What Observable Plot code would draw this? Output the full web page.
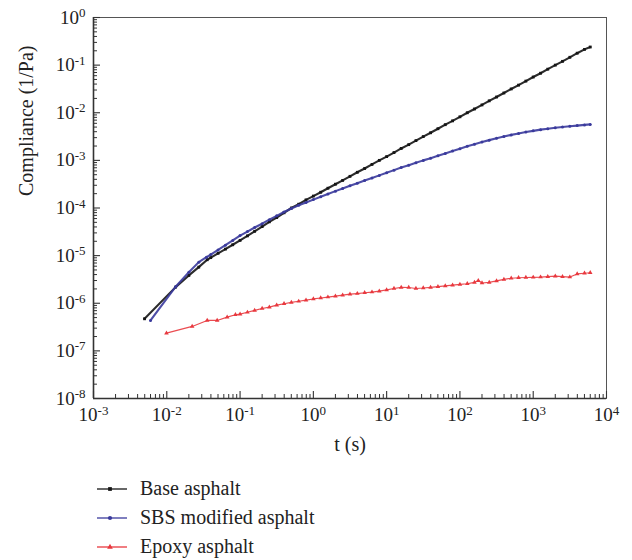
<!DOCTYPE html>
<html>
<head>
<meta charset="utf-8">
<script src="https://cdn.jsdelivr.net/npm/d3@7"></script>
<script src="https://cdn.jsdelivr.net/npm/@observablehq/plot@0.6"></script>
<style>
  body { margin: 0; background: #fff; font-family: "Liberation Serif", "DejaVu Serif", serif; }
  #wrap { position: relative; width: 632px; height: 560px; overflow: hidden; }
  #legend { position: absolute; left: 97px; top: 474px; font-size: 20px; color: #222; }
  .row { display: flex; align-items: center; height: 29px; }
  .row svg { margin-right: 13px; flex: none; }
</style>
</head>
<body>
<div id="wrap"><div id="chart"></div><div id="legend"></div></div>
<script>
// ---------- data ----------
const seriesNames = ["Base asphalt", "SBS modified asphalt", "Epoxy asphalt"];

const baseTime = [0.00497, 0.0132, 0.0200, 0.0273, 0.0356, 0.0398, 0.0501, 0.0631, 0.0794,
  0.1, 0.126, 0.158, 0.2, 0.251, 0.316, 0.398, 0.501, 0.631, 0.794,
  1, 1.26, 1.58, 2, 2.51, 3.16, 3.98, 5.01, 6.31, 7.94,
  10, 12.6, 15.8, 20, 25.1, 31.6, 39.8, 50.1, 63.1, 79.4,
  100, 126, 158, 200, 251, 316, 398, 501, 631, 794,
  1000, 1260, 1580, 2000, 2510, 3160, 3980, 5010, 6000];
const baseCompliance = [4.72e-7, 2.18e-6, 3.84e-6, 5.73e-6, 8.2e-6, 9.08e-6, 1.12e-5, 1.37e-5, 1.69e-5,
  2.09e-5, 2.60e-5, 3.24e-5, 4.07e-5, 5.13e-5, 6.31e-5, 7.94e-5, 1.0e-4, 1.20e-4, 1.48e-4,
  1.78e-4, 2.14e-4, 2.60e-4, 3.16e-4, 3.80e-4, 4.62e-4, 5.62e-4, 6.76e-4, 8.22e-4, 1.0e-3,
  1.20e-3, 1.46e-3, 1.78e-3, 2.14e-3, 2.60e-3, 3.16e-3, 3.80e-3, 4.62e-3, 5.62e-3, 6.76e-3,
  8.22e-3, 1.0e-2, 1.20e-2, 1.46e-2, 1.78e-2, 2.14e-2, 2.60e-2, 3.16e-2, 3.80e-2, 4.62e-2,
  5.62e-2, 6.76e-2, 8.22e-2, 0.100, 0.120, 0.146, 0.178, 0.214, 0.240];

const sbsTime = [0.0060, 0.0133, 0.0200, 0.0273, 0.0348, 0.0398, 0.0501, 0.0631, 0.0794,
  0.1, 0.126, 0.158, 0.2, 0.251, 0.316, 0.398, 0.501, 0.631, 0.794,
  1, 1.26, 1.58, 2, 2.51, 3.16, 3.98, 5.01, 6.31, 7.94,
  10, 12.6, 15.8, 20, 25.1, 31.6, 39.8, 50.1, 63.1, 79.4,
  100, 126, 158, 200, 251, 316, 398, 501, 631, 794,
  1000, 1260, 1580, 2000, 2510, 3160, 3980, 5010, 6000];
const sbsCompliance = [4.35e-7, 2.25e-6, 4.50e-6, 7.30e-6, 9.3e-6, 1.05e-5, 1.32e-5, 1.66e-5, 2.09e-5,
  2.63e-5, 3.20e-5, 3.89e-5, 4.68e-5, 5.69e-5, 6.84e-5, 8.22e-5, 9.77e-5, 1.14e-4, 1.30e-4,
  1.50e-4, 1.72e-4, 1.97e-4, 2.26e-4, 2.57e-4, 2.92e-4, 3.31e-4, 3.76e-4, 4.27e-4, 4.84e-4,
  5.50e-4, 6.24e-4, 7.08e-4, 7.94e-4, 8.91e-4, 1.0e-3, 1.11e-3, 1.245e-3, 1.40e-3, 1.57e-3,
  1.76e-3, 1.97e-3, 2.19e-3, 2.43e-3, 2.66e-3, 2.92e-3, 3.16e-3, 3.43e-3, 3.67e-3, 3.94e-3,
  4.17e-3, 4.42e-3, 4.62e-3, 4.84e-3, 5.01e-3, 5.19e-3, 5.37e-3, 5.56e-3, 5.69e-3];

const epoxyTime = [0.0099, 0.0222, 0.0356, 0.0487, 0.0667, 0.0865,
  0.1, 0.126, 0.158, 0.2, 0.251, 0.316, 0.398, 0.501, 0.631, 0.794,
  1, 1.26, 1.58, 2, 2.51, 3.16, 3.98, 5.01, 6.31, 7.94,
  10, 12.6, 15.8, 20, 25.1, 31.6, 39.8, 50.1, 63.1, 79.4,
  100, 126, 158, 178, 200, 251, 316, 398, 501, 631, 794,
  1000, 1260, 1580, 2000, 2510, 3160, 3980, 5010, 6000];
const epoxyCompliance = [2.36e-7, 3.26e-7, 4.35e-7, 4.35e-7, 5.1e-7, 5.73e-7,
  5.9e-7, 6.46e-7, 7.08e-7, 7.76e-7, 8.32e-7, 9.12e-7, 9.77e-7, 1.04e-6, 1.10e-6, 1.16e-6,
  1.23e-6, 1.29e-6, 1.35e-6, 1.41e-6, 1.48e-6, 1.55e-6, 1.60e-6, 1.66e-6, 1.72e-6, 1.80e-6,
  1.91e-6, 2.04e-6, 2.16e-6, 2.14e-6, 2.04e-6, 2.09e-6, 2.16e-6, 2.24e-6, 2.32e-6, 2.40e-6,
  2.48e-6, 2.57e-6, 2.75e-6, 2.99e-6, 2.66e-6, 2.75e-6, 2.95e-6, 3.16e-6, 3.35e-6, 3.43e-6, 3.47e-6,
  3.51e-6, 3.55e-6, 3.63e-6, 3.72e-6, 3.63e-6, 3.55e-6, 4.12e-6, 4.27e-6, 4.37e-6];

const xTickValues = [1e-3, 1e-2, 1e-1, 1e0, 1e1, 1e2, 1e3, 1e4];
const yTickValues = [1e-8, 1e-7, 1e-6, 1e-5, 1e-4, 1e-3, 1e-2, 1e-1, 1e0];
const minorMultipliers = [2, 3, 4, 5, 6, 7, 8, 9];

// ---------- styling ----------
const colors = ["#151515", "#3a3a9c", "#e8383e"];
const symbols = ["square", "circle", "triangle"];
const lineWidths = [2.1, 2.1, 1.2];
const dotRadii = [1.6, 1.5, 1.7];

const W = 632, H = 462;
const mL = 93, mR = 26, mT = 17, mB = 64;
const frameW = W - mL - mR, frameH = H - mT - mB;

const series = [
  {t: baseTime, j: baseCompliance},
  {t: sbsTime, j: sbsCompliance},
  {t: epoxyTime, j: epoxyCompliance}
].map((s, i) => s.t.map((t, k) => ({t, J: s.j[k], series: seriesNames[i]})));

const xMinor = xTickValues.slice(0, -1).flatMap(v => minorMultipliers.map(m => m * v));
const yMinor = yTickValues.slice(0, -1).flatMap(v => minorMultipliers.map(m => m * v));
const expFmt = d => "10^" + Math.round(Math.log10(d));

const marks = [
  Plot.frame({stroke: "#555", strokeWidth: 1}),
  Plot.ruleX([xTickValues[0]], {stroke: "#333", strokeWidth: 1.6}),
  Plot.ruleY([yTickValues[0]], {stroke: "#333", strokeWidth: 1.6}),
  Plot.tickY(yTickValues, {y: d => d, insetRight: frameW - 7, stroke: "#333", strokeWidth: 1.1}),
  Plot.tickY(yMinor, {y: d => d, insetRight: frameW - 4, stroke: "#333", strokeWidth: 1}),
  Plot.tickX(xTickValues, {x: d => d, insetTop: frameH - 7, stroke: "#333", strokeWidth: 1.1}),
  Plot.tickX(xMinor, {x: d => d, insetTop: frameH - 4, stroke: "#333", strokeWidth: 1}),
  Plot.axisY(yTickValues, {tickSize: 0, tickPadding: 8, tickFormat: expFmt, label: null, fontSize: 19}),
  Plot.axisX(xTickValues, {tickSize: 0, tickPadding: 9, tickFormat: expFmt, label: null, fontSize: 19}),
  Plot.text(["Compliance (1/Pa)"], {text: d => d, frameAnchor: "left", rotate: -90, dx: -67, dy: -12, fontSize: 20, fill: "#222"}),
  Plot.text(["t (s)"], {text: d => d, frameAnchor: "bottom", dy: 52, fontSize: 20, fill: "#222"})
];
series.forEach((rows, i) => {
  marks.push(Plot.line(rows, {x: "t", y: "J", stroke: colors[i], strokeWidth: lineWidths[i], strokeOpacity: 0.9}));
  marks.push(Plot.dot(rows, {x: "t", y: "J", symbol: symbols[i], fill: colors[i], stroke: "none", r: dotRadii[i]}));
});

const chart = Plot.plot({
  width: W, height: H,
  marginLeft: mL, marginRight: mR, marginTop: mT, marginBottom: mB,
  x: {type: "log", domain: [xTickValues[0], xTickValues[xTickValues.length - 1]]},
  y: {type: "log", domain: [yTickValues[0], yTickValues[yTickValues.length - 1]]},
  style: {fontFamily: "Liberation Serif, DejaVu Serif, serif", fontSize: "19px", color: "#222", background: "#fff", overflow: "visible"},
  marks
});

// superscript exponents in tick labels
d3.select(chart).selectAll('g[aria-label="y-axis tick label"] text, g[aria-label="x-axis tick label"] text').each(function () {
  const s = this.textContent;
  const parts = s.split("^");
  if (parts.length !== 2) return;
  this.textContent = parts[0];
  d3.select(this).append("tspan").attr("dy", "-0.5em").attr("font-size", "13px").text(parts[1]);
});

document.getElementById("chart").appendChild(chart);

// legend
const legend = d3.select("#legend");
seriesNames.forEach((name, i) => {
  const row = legend.append("div").attr("class", "row");
  const s = row.append("svg").attr("width", 30).attr("height", 10);
  s.append("line").attr("x1", 0).attr("x2", 30).attr("y1", 5).attr("y2", 5)
    .attr("stroke", colors[i]).attr("stroke-width", 1.3);
  s.append("path").attr("transform", "translate(13,5)")
    .attr("d", d3.symbol(i === 0 ? d3.symbolSquare : i === 1 ? d3.symbolCircle : d3.symbolTriangle, 14)())
    .attr("fill", colors[i]);
  row.append("span").text(name);
});
</script>
</body>
</html>
